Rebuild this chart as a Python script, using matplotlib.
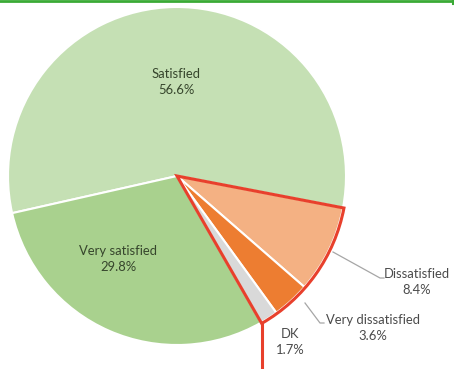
import numpy as np
import matplotlib.pyplot as plt
from matplotlib.patches import Wedge

labels = ['Satisfied', 'Dissatisfied', 'Very dissatisfied', 'DK', 'Very satisfied']
shares = [56.6, 8.4, 3.6, 1.7, 29.8]
colors = ['#c5e0b4', '#f4b183', '#ed7d31', '#d9d9d9', '#a9d18e']

W, H = 454, 369
plt.rcParams['font.family'] = ['Lato', 'DejaVu Sans']

fig = plt.figure(figsize=(W / 100, H / 100), dpi=100)
ax = fig.add_axes([0, 0, 1, 1])

cx, cy, R = 177, H - 176, 169
wedges, _ = ax.pie(shares, colors=colors, startangle=192.7, counterclock=False,
                   center=(cx, cy), radius=R, frame=True,
                   wedgeprops=dict(edgecolor='white', linewidth=1.5))
ax.set_xlim(0, W)
ax.set_ylim(0, H)
ax.set_aspect('equal')
ax.axis('off')

# label positions (pixels from top-left)
txt_pos = {'Satisfied': (176, 82), 'Very satisfied': (118, 259),
           'Dissatisfied': (417, 282), 'Very dissatisfied': (373, 328),
           'DK': (290, 342)}
inside = {'Satisfied', 'Very satisfied'}
for lab, val in zip(labels, shares):
    x, y = txt_pos[lab]
    col = '#36452c' if lab in inside else '#4a4a4a'
    ax.text(x, H - y, f'{lab}\n{val}%', ha='center', va='center',
            fontsize=9.4, color=col, linespacing=1.35)

# leader lines
leaders = {'Dissatisfied': [(333, 252), (380, 278), (384, 278)],
           'Very dissatisfied': [(305, 303), (320, 323), (324, 323)]}
for lab, pts in leaders.items():
    xs = [p[0] for p in pts]
    ys = [H - p[1] for p in pts]
    ax.plot(xs, ys, color='#a6a6a6', lw=0.9)

# red outline round the unsatisfied slices
neg = [wedges[labels.index(k)] for k in ('Dissatisfied', 'Very dissatisfied', 'DK')]
t1 = min(w.theta1 for w in neg)
t2 = max(w.theta2 for w in neg)
ax.add_patch(Wedge((cx, cy), R + 1, t1, t2, fill=False, edgecolor='#e8402c',
                   linewidth=2.2, joinstyle='miter', zorder=5))
bx = cx + (R + 1) * np.cos(np.radians(t1))
by = cy + (R + 1) * np.sin(np.radians(t1))
ax.plot([bx, bx], [by, 0], color='#e8402c', lw=2.2, zorder=5)

# green rule at top
ax.plot([0, 453], [H - 0.8, H - 0.8], color='#3aaa35', lw=2, zorder=6)
ax.plot([453, 453], [H, H - 4], color='#3aaa35', lw=1.5, zorder=6)

fig.savefig('out.png', dpi=100, facecolor='white')
